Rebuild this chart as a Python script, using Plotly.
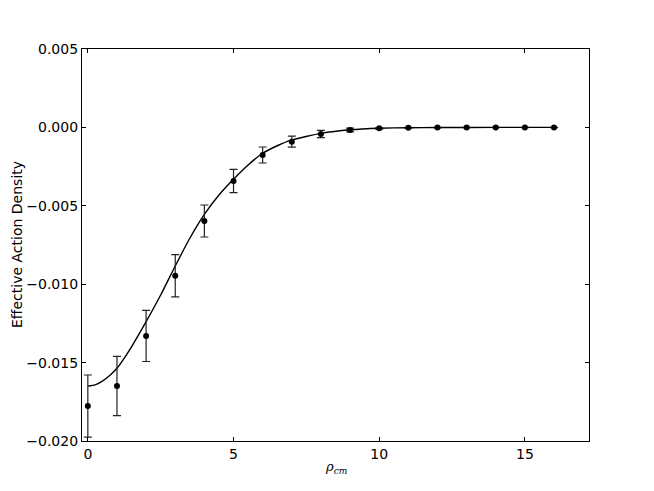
import plotly.graph_objects as go

# measured data points
rho = [0, 1, 2, 3, 4, 5, 6, 7, 8, 9, 10, 11, 12, 13, 14, 15, 16]
density = [-0.01777, -0.01649, -0.01330, -0.00946, -0.00597, -0.00342, -0.00176,
           -0.00091, -0.00042, -0.00017, -0.00006, -0.00002, -0.00001, 0.0, 0.0, 0.0, 0.0]
errors = [0.00198, 0.00189, 0.00163, 0.00135, 0.00102, 0.00074, 0.00051,
          0.00035, 0.00023, 0.00012, 0.00005, 0.00003, 0.00002, 0.00001, 0.00001, 0.00001, 0.00001]

# fitted curve
fit_rho = [0, 0.25, 0.5, 0.75, 1, 1.5, 2, 2.5, 3, 3.5, 4, 4.5, 5, 5.5, 6, 6.5, 7, 8, 9, 10, 11, 12, 14, 16]
fit_density = [-0.01650, -0.01642, -0.01618, -0.01582, -0.01536, -0.01399, -0.01239, -0.01069,
               -0.00884, -0.00707, -0.00555, -0.00431, -0.00331, -0.00240, -0.00165, -0.00117,
               -0.00080, -0.00038, -0.00015, -0.00005, -0.00002, -0.00001, 0.0, 0.0]

x_ticks = [0, 5, 10, 15]
y_ticks = [0.005, 0.0, -0.005, -0.010, -0.015, -0.020]

fig = go.Figure()
fig.add_trace(go.Scatter(
    x=fit_rho, y=fit_density, mode="lines",
    line=dict(color="black", width=1.4, shape="spline", smoothing=0.5),
    showlegend=False, hoverinfo="skip"))
fig.add_trace(go.Scatter(
    x=rho, y=density, mode="markers",
    marker=dict(color="black", size=6),
    error_y=dict(type="data", array=errors, visible=True, color="#222222",
                 thickness=1.2, width=4),
    showlegend=False))

axis_common = dict(showline=True, linecolor="black", linewidth=1.2, mirror="ticks",
                   ticks="inside", ticklen=4, tickcolor="black", tickwidth=1,
                   showgrid=False, zeroline=False, automargin=False,
                   tickfont=dict(family="DejaVu Sans", size=14, color="black"))

fig.update_layout(
    width=646, height=483,
    margin=dict(l=74, r=65, t=41, b=50),
    paper_bgcolor="white", plot_bgcolor="white",
    xaxis=dict(range=[-0.2, 17.2], tickvals=x_ticks, ticktext=[str(v) for v in x_ticks],
               **axis_common),
    yaxis=dict(range=[-0.020, 0.005], tickvals=y_ticks, tickformat=".3f",
               **axis_common),
    annotations=[
        dict(text="<i>ρ</i><sub><i>cm</i></sub>", xref="paper", yref="paper",
             x=0.5, y=0, yshift=-26, xanchor="center", yanchor="middle",
             showarrow=False, font=dict(family="DejaVu Serif", size=13, color="black")),
        dict(text="Effective Action Density", xref="paper", yref="paper",
             x=0, y=0.5, xshift=-65, xanchor="center", yanchor="middle", textangle=-90,
             showarrow=False, font=dict(family="DejaVu Sans", size=14, color="black")),
    ],
)

fig.write_html("out.html")
